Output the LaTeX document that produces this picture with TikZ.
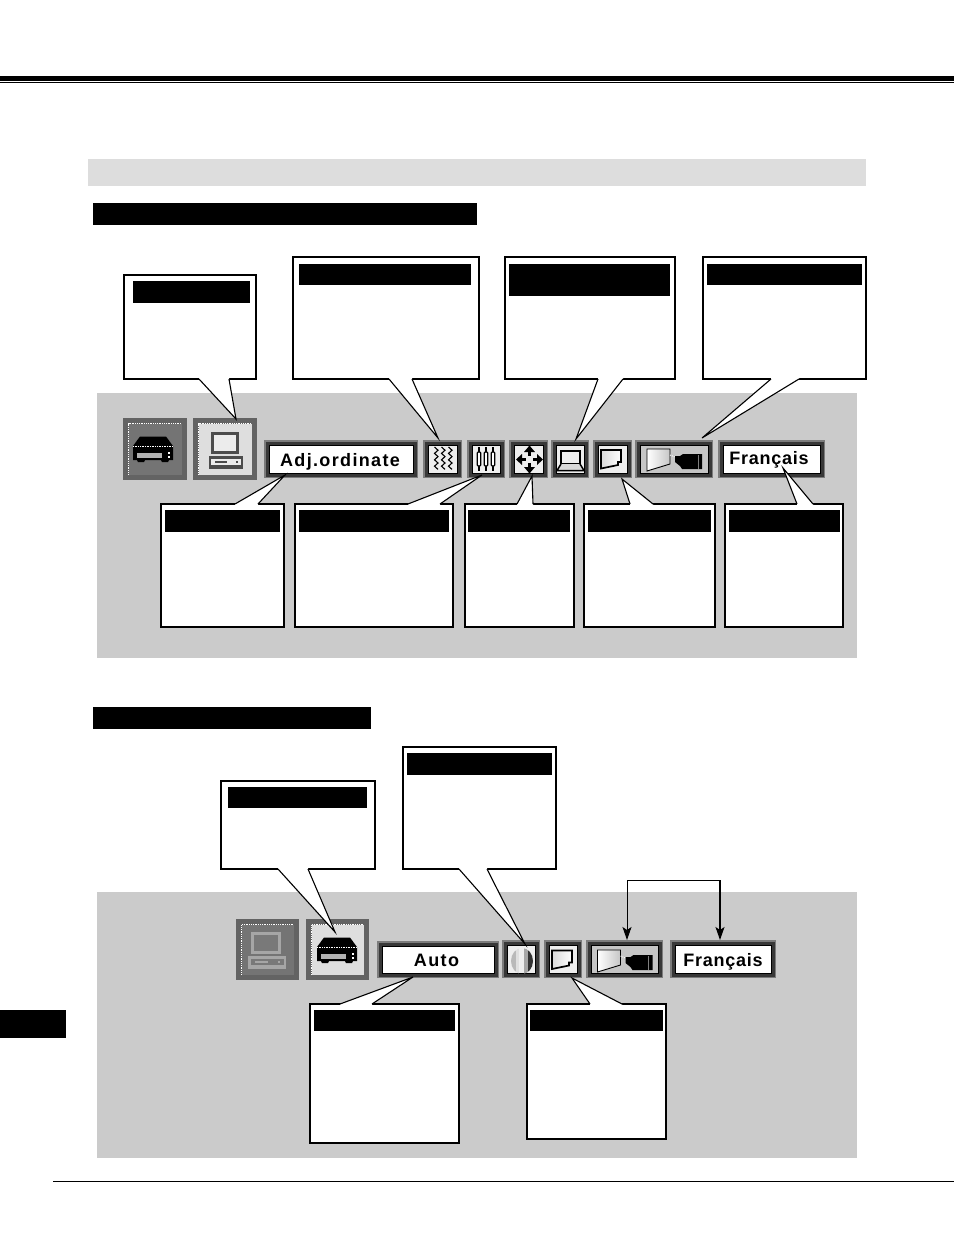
\documentclass[tikz,border=0pt]{standalone}
\usepackage{fontspec}
\setmainfont{Liberation Sans}
\newfontfamily\btnfont[LetterSpace=7.5]{Liberation Sans Bold}
\newfontfamily\frfont[LetterSpace=4]{Liberation Sans Bold}
\usetikzlibrary{arrows.meta,calc}
\definecolor{panelgray}{HTML}{CBCBCB}
\definecolor{bandgray}{HTML}{DDDDDD}
\definecolor{frameout}{HTML}{7C7C7C}
\definecolor{framein}{HTML}{383838}
\definecolor{faceoff}{HTML}{747474}
\definecolor{faceon}{HTML}{DEDEDE}
\definecolor{facepale}{HTML}{EEEEEE}
\tikzset{
  calloutbox/.style={draw=black,fill=white,line width=1.1pt,inner sep=0pt,outer sep=0pt},
  barnode/.style={fill=black,draw=none,inner sep=0pt,outer sep=0pt},
  btnface/.style={inner sep=0pt,outer sep=0pt,draw=black,line width=.8pt},
  btnlabel/.style={inner sep=0pt,outer sep=0pt,anchor=base},
  pointer/.style={draw=black,line width=1.1pt,line join=miter,miter limit=8},
  flowline/.style={draw=black,line width=1pt,-{Stealth[length=13pt,width=9pt,inset=3pt]}},
}
% \callout{name}{x1}{y1}{x2}{y2}{bx1}{bx2}{tipx}{tipy}; \cby is the base line
\newcommand{\callout}[9]{%
  \node[calloutbox,minimum width={(#4-#2)*1pt},minimum height={(#5-#3)*1pt}] (#1) at ({(#2+#4)/2},{(#3+#5)/2}) {};
  \coordinate (#1tip) at (#8,#9);
  \coordinate (#1a) at (#6,\cby);
  \coordinate (#1b) at (#7,\cby);
  \pgfmathsetmacro{\csgn}{#9<\cby ? 1.2 : -1.2}
  \fill[white] (#1a) -- (#1tip) -- (#1b) -- ($(#1b)+(0,\csgn)$) -- ($(#1a)+(0,\csgn)$) -- cycle;
  \draw[pointer] (#1a) -- (#1tip) -- (#1b);
}
% \headbar{name}{x1}{y1}{x2}{y2}
\newcommand{\headbar}[5]{%
  \node[barnode,minimum width={(#4-#2)*1pt},minimum height={(#5-#3)*1pt}] (#1) at ({(#2+#4)/2},{(#3+#5)/2}) {};}
% \btn{name}{x1}{y1}{x2}{y2}{face}
\newcommand{\btn}[6]{%
  \fill[frameout] (#2,#3) rectangle (#4,#5);
  \fill[framein] (#2+1.5,#3+1.5) rectangle (#4-1.5,#5-1.5);
  \coordinate (#1top) at ({(#2+#4)/2},#3);
  \node[btnface,fill=#6,minimum width={(#4-#2-10)*1pt},minimum height={(#5-#3-10)*1pt}] (#1) at ({(#2+#4)/2},{(#3+#5)/2}) {};}
% \bigbtn{name}{x1}{y1}{x2}{y2}{face}
\newcommand{\bigbtn}[6]{%
  \fill[faceoff!85!black] (#2,#3) rectangle (#4,#5);
  \node[inner sep=0pt,outer sep=0pt,fill=#6,minimum width={(#4-#2-11)*1pt},minimum height={(#5-#3-11)*1pt}] (#1) at ({(#2+#4)/2},{(#3+#5)/2}) {};
  \draw[white,line width=.8pt,densely dotted] (#2+5.5,#5-5.5) -- (#2+5.5,#3+5.5) -- (#4-5.5,#3+5.5);}
% VCR-like icon, black
\newcommand{\vcricon}[2]{%
  \begin{scope}[shift={(#1,#2)}]
    \fill[black] (-13,-12.5) -- (13,-12.5) -- (20,-3) -- (20,11) -- (16,11) -- (15,13) -- (9,13) -- (8,11) -- (-8,11) -- (-9,13) -- (-15,13) -- (-16,11) -- (-20,11) -- (-20,-3) -- cycle;
    \draw[white,line width=.7pt,densely dotted] (-20,-2.5) -- (20,-2.5);
    \fill[gray!60] (-16,3.5) rectangle (9,8.5);
    \fill[white] (15,3) rectangle (17,5);
    \fill[white] (15,7) rectangle (17,9);
  \end{scope}}
% computer icon {x}{y}{line}{screen}{xscale}
\newcommand{\pcicon}[5]{%
  \begin{scope}[shift={(#1,#2)},xscale=#5]
    \fill[#3] (-14,-18) rectangle (14,4);
    \fill[#4] (-11,-15) rectangle (11,1);
    \fill[#3] (-16,6) rectangle (18,19);
    \fill[#4] (-14,8.5) rectangle (16,15);
    \fill[#3] (-10,11) rectangle (2,12.5);
    \fill[#3] (11,11) rectangle (13,13);
  \end{scope}}
\newcommand{\pageicon}[2]{%
  \begin{scope}[shift={(#1,#2)}]
    \draw[black,line width=1.7pt,line join=miter,left color=gray!30,right color=white] (-10,-9) -- (10,-9) -- (10,3) -- (7,3) -- (7,6) -- (-10,9.5) -- cycle;
  \end{scope}}
\newcommand{\camicon}[2]{%
  \begin{scope}[shift={(#1,#2)}]
    \draw[black,line width=.9pt,left color=white,right color=gray!45] (-27,-10) -- (-4,-10) -- (-4,5) -- (-27,12) -- cycle;
    \draw[white,line width=1pt,densely dotted] (-4,-4) -- (1,-2);
    \fill[black] (1,-3) -- (6,-3) -- (9,-5) -- (28,-5) -- (28,10) -- (8,10) -- (6,7) -- (1,3) -- cycle;
    \draw[gray,line width=.6pt] (24,-4) -- (24,10);
  \end{scope}}
\begin{document}
\begin{tikzpicture}[x=1pt,y=-1pt]
\useasboundingbox (0,0) rectangle (954,1235);
\fill[white] (0,0) rectangle (954,1235);
% rules and bands
\fill[black] (0,76) rectangle (954,80.5);
\fill[black] (0,82) rectangle (954,83);
\fill[bandgray] (88,159) rectangle (866,186);
\headbar{hA}{93}{203}{477}{225}
\fill[panelgray] (97,393) rectangle (857,658);
\headbar{hB}{93}{707}{371}{729}
\fill[panelgray] (97,892) rectangle (857,1158);
\headbar{tab}{0}{1010}{66}{1038}
\fill[black] (53,1180.5) rectangle (954,1182);

% ---- panel 1 buttons
\bigbtn{b1}{123}{418}{187}{480}{faceoff}
\vcricon{153}{449}
\bigbtn{b2}{193}{418}{257}{480}{faceon}
\pcicon{225}{450}{gray!60!black}{gray!15}{1}
\btn{b3}{264}{440}{418}{478}{white}
\node[btnlabel] (t3) at (340,466) {\btnfont\fontsize{18}{18}\selectfont Adj.ordinate};
\btn{b4}{423}{440}{462}{478}{facepale}
\foreach \xx in {-7,0,7}{
  \draw[black,line width=1.1pt] (441.5+\xx,447) -- ++(3.5,3.2) -- ++(-3.5,3.2) -- ++(3.5,3.2) -- ++(-3.5,3.2) -- ++(3.5,3.2) -- ++(-3.5,3.2) -- ++(3.5,3.2);
}
\btn{b5}{467}{440}{505}{478}{facepale}
\foreach \xx in {-7,0,7}{
  \draw[black,line width=1.2pt] (486+\xx,447) -- (486+\xx,471);
  \draw[black,line width=1.2pt,fill=white,rounded corners=1pt] (484.3+\xx,452) rectangle (487.7+\xx,466);
}
\btn{b6}{509}{440}{548}{478}{facepale}
\fill[black] (529.5,445.5) -- (524,452) -- (535,452) -- cycle;
\fill[black] (529.5,473.5) -- (524,467) -- (535,467) -- cycle;
\fill[black] (516,459.5) -- (522,454) -- (522,465) -- cycle;
\fill[black] (543,459.5) -- (537,454) -- (537,465) -- cycle;
\draw[black,line width=2.2pt] (529.5,451) -- (529.5,456) (529.5,463) -- (529.5,468) (521,459.5) -- (526,459.5) (533,459.5) -- (538,459.5);
\btn{b7}{551}{440}{589}{478}{facepale}
\draw[black,line width=1.7pt] (561,451) rectangle (580,464);
\draw[black,line width=1.5pt,fill=gray!30] (561,464) -- (557,470.5) -- (584,470.5) -- (580,464);
\btn{b8}{593}{440}{632}{478}{facepale}
\pageicon{611}{459}
\btn{b9}{635}{440}{713}{478}{gray!45}
\camicon{674}{459}
\btn{b10}{718}{440}{825}{478}{white}
\node[btnlabel] (t10) at (769,464) {\frfont\fontsize{18}{18}\selectfont Français};

% ---- panel 1 callouts
\def\cby{379}
\callout{c1}{124}{275}{256}{379}{199}{229}{236}{419}
\headbar{c1h}{133}{281}{250}{303}
\callout{c2}{293}{257}{479}{379}{389}{412}{438}{438}
\headbar{c2h}{299}{264}{471}{285}
\callout{c3}{505}{257}{675}{379}{598}{623}{576}{439}
\headbar{c3h}{509}{264}{670}{296}
\callout{c4}{703}{257}{866}{379}{771}{799}{702}{438}
\headbar{c4h}{707}{264}{862}{285}
\def\cby{504}
\callout{c5}{161}{504}{284}{627}{235}{258}{285}{475}
\headbar{c5h}{165}{510}{280}{532}
\callout{c6}{295}{504}{453}{627}{408}{440}{482}{475}
\headbar{c6h}{299}{510}{449}{532}
\callout{c7}{465}{504}{574}{627}{517}{533}{532}{476}
\headbar{c7h}{468}{510}{570}{532}
\callout{c8}{584}{504}{715}{627}{630}{653}{622}{479}
\headbar{c8h}{588}{510}{711}{532}
\callout{c9}{725}{504}{843}{627}{797}{813}{783}{468}
\headbar{c9h}{729}{510}{840}{532}

% ---- panel 2 buttons
\bigbtn{d1}{236}{919}{299}{980}{faceoff}
\pcicon{266}{950}{gray!70}{gray!45!faceoff}{1.1}
\bigbtn{d2}{306}{919}{369}{980}{faceon}
\vcricon{337}{950}
\btn{d3}{377}{941}{499}{978}{white}
\node[btnlabel] (td3) at (436.5,966) {\btnfont\fontsize{18}{18}\selectfont Auto};
\btn{d4}{502}{940}{540}{978}{facepale}
\begin{scope}
  \clip (522,961) ellipse (11 and 13);
  \fill[gray!55] (511,947) rectangle (516,975);
  \fill[gray!25] (516,947) rectangle (519,975);
  \fill[gray!70] (524,947) rectangle (528,975);
  \fill[black!80] (528,947) rectangle (534,975);
\end{scope}
\btn{d5}{544}{940}{582}{978}{facepale}
\pageicon{562}{959.5}
\btn{d6}{586}{940}{663}{978}{gray!45}
\camicon{624.5}{960}
\btn{d7}{670}{940}{776}{978}{white}
\node[btnlabel] (td7) at (723,966) {\frfont\fontsize{18}{18}\selectfont Français};

% ---- panel 2 callouts
\def\cby{869}
\callout{e1}{221}{781}{375}{869}{278}{308}{335}{932}
\headbar{e1h}{228}{787}{367}{808}
\callout{e2}{403}{747}{556}{869}{459}{487}{525}{944}
\headbar{e2h}{407}{753}{552}{775}
\def\cby{1004}
\callout{e3}{310}{1004}{459}{1143}{340}{372}{413}{977}
\headbar{e3h}{314}{1010}{455}{1031}
\callout{e4}{527}{1004}{666}{1139}{590}{622}{572}{978}
\headbar{e4h}{530}{1010}{663}{1031}

% ---- arrows
\coordinate (ar) at ($(d7top |- 0,880)+(-3,0)$);
\draw[flowline] (ar) -- ($(d6top |- 0,880)+(2.5,0)$) -- ($(d6top)+(2.5,0)$);
\draw[flowline,line width=1.5pt] (ar) -- ($(d7top)+(-3,0)$);
\end{tikzpicture}
\end{document}
